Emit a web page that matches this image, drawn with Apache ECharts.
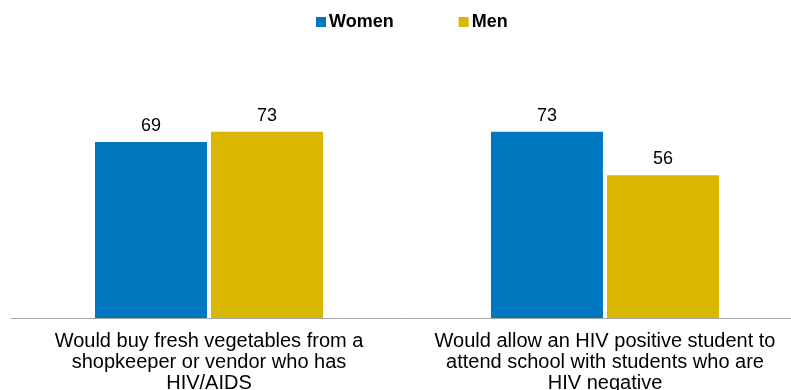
<!DOCTYPE html>
<html>
<head>
<meta charset="utf-8">
<style>
  html, body { margin: 0; padding: 0; background: #fff; overflow: hidden; }
  #main { width: 791px; height: 390px; }
</style>
<script src="https://cdn.jsdelivr.net/npm/echarts@6/dist/echarts.min.js"></script>
</head>
<body>
<div id="main"></div>
<script>
var categories = [
  'Would buy fresh vegetables from a\nshopkeeper or vendor who has\nHIV/AIDS',
  'Would allow an HIV positive student to\nattend school with students who are\nHIV negative'
];
var women = [69, 73];
var men = [73, 56];

var chartDom = document.getElementById('main');
var myChart = echarts.init(chartDom);
var option;

var labelStyle = {
  show: true,
  position: 'top',
  distance: 7,
  color: '#000',
  fontSize: 18,
  fontFamily: 'Liberation Sans, Arial, sans-serif'
};

option = {
  animation: false,
  textStyle: { fontFamily: 'Liberation Sans, Arial, sans-serif' },
  legend: {
    top: 8,
    left: 311,
    itemWidth: 10,
    itemHeight: 10,
    itemGap: 65,
    icon: 'rect',
    textStyle: { fontSize: 18, fontWeight: 'bold', color: '#000', padding: [0, 0, 0, -2] },
    data: ['Women', 'Men']
  },
  grid: {
    left: 11,
    width: 792,
    top: 63,
    bottom: 72,
    containLabel: false,
    outerBoundsMode: 'none'
  },
  xAxis: {
    type: 'category',
    data: categories,
    axisTick: { show: false },
    axisLine: { lineStyle: { color: '#A6A6A6', width: 1 } },
    axisLabel: {
      interval: 0,
      margin: 13,
      color: '#000',
      fontSize: 20,
      lineHeight: 21
    }
  },
  yAxis: {
    type: 'value',
    min: 0,
    max: 100,
    show: false,
    splitLine: { show: false }
  },
  series: [
    {
      name: 'Women',
      type: 'bar',
      data: women,
      barWidth: 112,
      barGap: '3.6%',
      itemStyle: { color: '#0078C0' },
      label: labelStyle
    },
    {
      name: 'Men',
      type: 'bar',
      data: men,
      barWidth: 112,
      itemStyle: { color: '#D9B700' },
      label: labelStyle
    }
  ]
};

if (chartDom && myChart) {
  myChart.setOption(option);
} else {
  console.error('Failed to initialize the chart');
}
</script>
</body>
</html>
